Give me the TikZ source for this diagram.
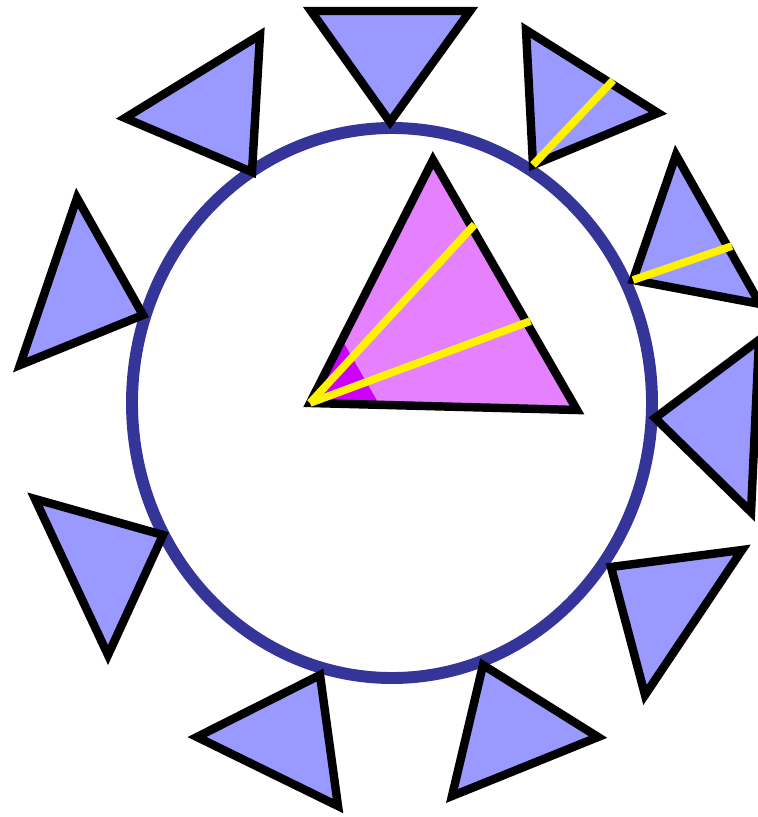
\documentclass[tikz,border=0pt]{standalone}
\usetikzlibrary{calc}

\definecolor{ringblue}{RGB}{53,53,153}
\definecolor{petalblue}{RGB}{153,153,255}
\definecolor{orchid}{RGB}{229,128,255}
\definecolor{deepviolet}{RGB}{204,0,255}

\begin{document}
\begin{tikzpicture}[
    x=0.02cm, y=-0.02cm,
    ring/.style={draw=ringblue, line width=6.8pt},
    petal/.style={draw=black, fill=petalblue, line width=4.8pt},
    centre/.style={draw=black, line width=4.8pt},
    ray/.style={draw=yellow, line width=4.4pt, shorten >=-2.3pt}
]
\useasboundingbox (0,0) rectangle (757,817);

% the ring
\coordinate (o) at (392,403);
\draw[ring] (o) ellipse [x radius=260, y radius=275];

% small triangles round the ring, apex on the ring
\foreach \ax/\ay/\bx/\by/\cx/\cy in {
    390/122/311/11/470/11,
    655/418/759/340/751/512,
    611/567/742/550/645/695,
    483/665/598/737/452/796,
    320/675/197/737/338/806,
    163/535/35/499/108/655,
    143/315/77/198/20/365,
    252/172/125/118/260/35}
  \draw[petal] (\ax,\ay) -- (\bx,\by) -- (\cx,\cy) -- cycle;

% the two with a ray
\coordinate (p1) at (533,165);
\coordinate (p2) at (526,30);
\coordinate (p3) at (658,113);
\draw[petal] (p1) -- (p2) -- (p3) -- cycle;
\draw[ray] (p1) -- ($(p2)!0.64!(p3)$);

\coordinate (q1) at (633,280);
\coordinate (q2) at (676,155);
\coordinate (q3) at (760,304);
\draw[petal] (q1) -- (q2) -- (q3) -- cycle;
\draw[ray] (q1) -- ($(q2)!0.62!(q3)$);

% the big triangle in the middle
\coordinate (a) at (310,403);
\coordinate (b) at (433,160);
\coordinate (c) at (577,410);
\fill[orchid] (a) -- (b) -- (c) -- cycle;
\fill[deepviolet] (a) -- ($(a)!0.26!(b)$) -- ($(a)!0.26!(c)$) -- cycle;
\draw[centre] (a) -- (b) -- (c) -- cycle;
\draw[ray] (a) -- ($(b)!0.27!(c)$);
\draw[ray] (a) -- ($(b)!0.65!(c)$);
\end{tikzpicture}
\end{document}
